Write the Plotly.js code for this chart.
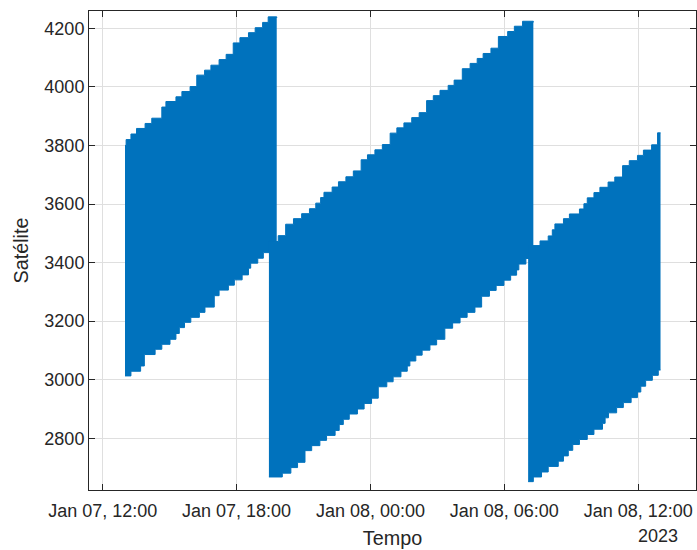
<!DOCTYPE html>
<html>
<head>
<meta charset="utf-8">
<script src="https://cdn.plot.ly/plotly-3.0.1.min.js"></script>
<style>
  html, body { margin: 0; padding: 0; background: #ffffff; }
  #chart { width: 697px; height: 550px; }
</style>
</head>
<body>
<div id="chart"></div>
<script>
// Satellite signal over time: three passes, each a dense band bounded by
// a stepped upper envelope and a stepped lower envelope.

// Pass 1 (Jan 07 afternoon)
const pass1UpperTime = ['2023-01-07 13:00','2023-01-07 13:03','2023-01-07 13:16','2023-01-07 13:31','2023-01-07 13:54','2023-01-07 14:12','2023-01-07 14:39','2023-01-07 14:50','2023-01-07 15:17','2023-01-07 15:33','2023-01-07 15:55','2023-01-07 16:13','2023-01-07 16:34','2023-01-07 16:51','2023-01-07 17:13','2023-01-07 17:32','2023-01-07 17:51','2023-01-07 18:09','2023-01-07 18:32','2023-01-07 18:50','2023-01-07 19:10','2023-01-07 19:25','2023-01-07 19:48'];
const pass1Upper     = [3800,3820,3839,3858,3875,3893,3931,3950,3966,3984,4001,4040,4057,4074,4093,4111,4150,4168,4185,4202,4220,4239,4235];
const pass1LowerTime = ['2023-01-07 13:00','2023-01-07 13:16','2023-01-07 13:42','2023-01-07 13:52','2023-01-07 14:21','2023-01-07 14:39','2023-01-07 15:01','2023-01-07 15:17','2023-01-07 15:26','2023-01-07 15:40','2023-01-07 15:57','2023-01-07 16:20','2023-01-07 16:35','2023-01-07 17:00','2023-01-07 17:13','2023-01-07 17:38','2023-01-07 17:54','2023-01-07 18:15','2023-01-07 18:32','2023-01-07 18:38','2023-01-07 18:57','2023-01-07 19:12','2023-01-07 19:48'];
const pass1Lower     = [3013,3029,3047,3086,3104,3121,3138,3158,3178,3196,3213,3230,3248,3287,3306,3323,3341,3358,3381,3398,3415,3434,3434];

// Pass 2 (Jan 07 evening to Jan 08 morning)
const pass2UpperTime = ['2023-01-07 19:27','2023-01-07 19:52','2023-01-07 20:12','2023-01-07 20:33','2023-01-07 20:55','2023-01-07 21:16','2023-01-07 21:33','2023-01-07 21:46','2023-01-07 21:55','2023-01-07 22:17','2023-01-07 22:34','2023-01-07 22:54','2023-01-07 23:14','2023-01-07 23:35','2023-01-07 23:52','2023-01-08 00:12','2023-01-08 00:32','2023-01-08 00:53','2023-01-08 01:11','2023-01-08 01:30','2023-01-08 01:51','2023-01-08 02:11','2023-01-08 02:31','2023-01-08 02:49','2023-01-08 03:07','2023-01-08 03:29','2023-01-08 03:45','2023-01-08 04:07','2023-01-08 04:28','2023-01-08 04:47','2023-01-08 05:03','2023-01-08 05:24','2023-01-08 05:44','2023-01-08 06:09','2023-01-08 06:27','2023-01-08 06:49','2023-01-08 07:18'];
const pass2Upper     = [3472,3492,3531,3550,3567,3584,3603,3622,3640,3658,3676,3693,3713,3751,3768,3785,3803,3842,3860,3877,3895,3912,3953,3970,3988,4005,4023,4062,4080,4097,4114,4132,4172,4189,4207,4224,4220];
const pass2LowerTime = ['2023-01-07 19:27','2023-01-07 20:03','2023-01-07 20:26','2023-01-07 20:44','2023-01-07 21:04','2023-01-07 21:22','2023-01-07 21:44','2023-01-07 22:02','2023-01-07 22:25','2023-01-07 22:36','2023-01-07 22:47','2023-01-07 23:03','2023-01-07 23:25','2023-01-07 23:43','2023-01-08 00:03','2023-01-08 00:21','2023-01-08 00:44','2023-01-08 01:01','2023-01-08 01:22','2023-01-08 01:39','2023-01-08 01:46','2023-01-08 02:02','2023-01-08 02:19','2023-01-08 02:40','2023-01-08 02:58','2023-01-08 03:20','2023-01-08 03:41','2023-01-08 04:01','2023-01-08 04:20','2023-01-08 04:41','2023-01-08 04:59','2023-01-08 05:20','2023-01-08 05:38','2023-01-08 05:59','2023-01-08 06:17','2023-01-08 06:33','2023-01-08 06:39','2023-01-08 06:58','2023-01-08 07:18'];
const pass2Lower     = [2668,2681,2700,2718,2758,2775,2793,2810,2827,2847,2865,2883,2900,2919,2937,2976,2993,3010,3029,3047,3064,3084,3101,3119,3138,3176,3194,3213,3230,3248,3285,3305,3322,3340,3357,3375,3395,3414,3416];

// Pass 3 (Jan 08 morning to early afternoon)
const pass3UpperTime = ['2023-01-08 07:04','2023-01-08 07:36','2023-01-08 07:58','2023-01-08 08:09','2023-01-08 08:16','2023-01-08 08:39','2023-01-08 08:55','2023-01-08 09:22','2023-01-08 09:34','2023-01-08 09:43','2023-01-08 10:01','2023-01-08 10:17','2023-01-08 10:39','2023-01-08 10:57','2023-01-08 11:18','2023-01-08 11:36','2023-01-08 11:58','2023-01-08 12:14','2023-01-08 12:36','2023-01-08 12:52','2023-01-08 13:00'];
const pass3Upper     = [3458,3474,3491,3512,3532,3550,3566,3583,3601,3621,3639,3657,3675,3692,3731,3748,3766,3784,3802,3843,3843];
const pass3LowerTime = ['2023-01-08 07:04','2023-01-08 07:18','2023-01-08 07:40','2023-01-08 07:58','2023-01-08 08:25','2023-01-08 08:39','2023-01-08 08:52','2023-01-08 09:04','2023-01-08 09:22','2023-01-08 09:43','2023-01-08 10:01','2023-01-08 10:24','2023-01-08 10:31','2023-01-08 10:40','2023-01-08 11:02','2023-01-08 11:20','2023-01-08 11:41','2023-01-08 11:58','2023-01-08 12:07','2023-01-08 12:20','2023-01-08 12:38','2023-01-08 12:54','2023-01-08 13:00'];
const pass3Lower     = [2652,2668,2685,2704,2722,2740,2759,2779,2796,2813,2831,2851,2870,2887,2905,2922,2939,2958,2978,2998,3015,3033,3033];

// Axis ticks
const timeTicks      = ['2023-01-07 12:00','2023-01-07 18:00','2023-01-08 00:00','2023-01-08 06:00','2023-01-08 12:00'];
const timeTickLabels = ['Jan 07, 12:00','Jan 07, 18:00','Jan 08, 00:00','Jan 08, 06:00','Jan 08, 12:00'];
const valueTicks     = [2800,3000,3200,3400,3600,3800,4000,4200];
const yearLabel      = '2023';

const BLUE = '#0072BD';
const INK = '#262626';
const FONT = '"Liberation Sans", Arial, Helvetica, sans-serif';

const passes = [
  [pass1UpperTime, pass1Upper, pass1LowerTime, pass1Lower],
  [pass2UpperTime, pass2Upper, pass2LowerTime, pass2Lower],
  [pass3UpperTime, pass3Upper, pass3LowerTime, pass3Lower]
];

const traces = [];
passes.forEach(([ut, uv, lt, lv]) => {
  traces.push({
    type: 'scatter', mode: 'lines', x: ut, y: uv,
    line: { shape: 'hv', color: BLUE, width: 1 },
    hoverinfo: 'skip', showlegend: false
  });
  traces.push({
    type: 'scatter', mode: 'lines', x: lt, y: lv,
    line: { shape: 'hv', color: BLUE, width: 1 },
    fill: 'tonexty', fillcolor: BLUE,
    hoverinfo: 'skip', showlegend: false
  });
});

const layout = {
  width: 697, height: 550,
  margin: { l: 89, r: 1, t: 11, b: 60, pad: 0 },
  paper_bgcolor: '#ffffff', plot_bgcolor: '#ffffff',
  font: { family: FONT, size: 18, color: INK },
  showlegend: false,
  xaxis: {
    type: 'date',
    range: ['2023-01-07 11:23:12', '2023-01-08 14:35:24'],
    tickmode: 'array', tickvals: timeTicks, ticktext: timeTickLabels,
    ticks: 'inside', ticklen: 6, tickwidth: 1, tickcolor: INK,
    ticklabelstandoff: 4,
    showline: true, linecolor: INK, linewidth: 1, mirror: 'ticks',
    showgrid: true, gridcolor: '#dfdfdf', gridwidth: 1,
    zeroline: false,
    tickfont: { family: FONT, size: 18, color: INK },
    title: { text: 'Tempo', font: { family: FONT, size: 19.8, color: INK }, standoff: 11 }
  },
  yaxis: {
    range: [2623.5, 4259],
    tickmode: 'array', tickvals: valueTicks,
    ticks: 'inside', ticklen: 6, tickwidth: 1, tickcolor: INK,
    showline: true, linecolor: INK, linewidth: 1, mirror: 'ticks',
    showgrid: true, gridcolor: '#dfdfdf', gridwidth: 1,
    zeroline: false,
    tickfont: { family: FONT, size: 18, color: INK },
    title: { text: 'Satélite', font: { family: FONT, size: 19.8, color: INK }, standoff: 10 }
  },
  annotations: [{
    text: yearLabel, xref: 'paper', yref: 'paper',
    x: 0.974, y: -0.096, xanchor: 'right', yanchor: 'middle',
    showarrow: false, font: { family: FONT, size: 18, color: INK }
  }]
};

Plotly.newPlot('chart', traces, layout, { staticPlot: true, displayModeBar: false });
</script>
</body>
</html>
